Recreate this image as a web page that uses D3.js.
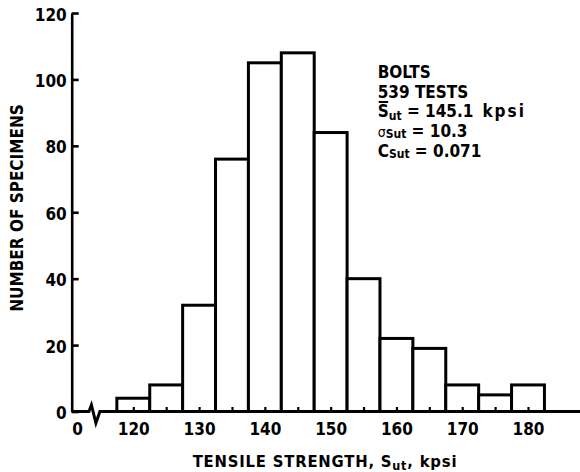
<!DOCTYPE html>
<html>
<head>
<meta charset="utf-8">
<script src="https://cdn.jsdelivr.net/npm/d3@7"></script>
<style>
  body { margin: 0; background: #fff; }
  text { font-family: "DejaVu Sans Condensed", "DejaVu Sans", sans-serif; font-weight: bold; font-stretch: condensed; fill: #000; }
</style>
</head>
<body>
<svg id="chart" width="580" height="472"></svg>
<script>
// histogram bins (lower edge, kpsi) and counts
const binLow = [117.5, 122.5, 127.5, 132.5, 137.5, 142.5, 147.5, 152.5, 157.5, 162.5, 167.5, 172.5, 177.5];
const counts = [4, 8, 32, 76, 105, 108, 84, 40, 22, 19, 8, 5, 8];
const binWidth = 5;

const xTickLabels = [120, 130, 140, 150, 160, 170, 180];
const xMinorTicks = [120, 125, 130, 135, 140, 145, 150, 155, 160, 165, 170, 175, 180];
const yTicks = [0, 20, 40, 60, 80, 100, 120];

const noteLines = ['BOLTS', '539 TESTS'];
const meanValue = '145.1';
const sigmaValue = '10.3';
const covValue = '0.071';

const svg = d3.select('#chart');

//scales
const x = d3.scaleLinear().domain([120, 180]).range([133.3, 528]);
const y = d3.scaleLinear().domain([0, 120]).range([411.5, 13]);
const axisX = 71.7;
const y0 = y(0);

//baseline with the axis break
const bx = x(115);
const breakLine = d3.line();
svg.append('path')
   .attr('d', breakLine([[axisX, y0], [bx - 11.5, y0], [bx - 9, y0 - 6.5], [bx - 4.5, y0 + 11.5], [bx - 0.5, y0], [580, y0]]))
   .attr('fill', 'none')
   .attr('stroke', '#000')
   .attr('stroke-width', 3)
   .attr('stroke-linejoin', 'miter');

//bars
svg.selectAll('rect.bar')
   .data(binLow)
   .enter()
   .append('rect')
   .attr('class', 'bar')
   .attr('x', (d) => x(d))
   .attr('width', (d) => x(d + binWidth) - x(d))
   .attr('y', (d, i) => y(counts[i]))
   .attr('height', (d, i) => y0 - y(counts[i]))
   .attr('fill', '#fff')
   .attr('stroke', '#000')
   .attr('stroke-width', 3);

//minor ticks pointing up
const minorAxis = d3.axisBottom(x).tickValues(xMinorTicks).tickSize(-4.5).tickFormat('');
svg.append('g')
   .attr('transform', 'translate(0,' + y0 + ')')
   .call(minorAxis)
   .call((g) => g.select('.domain').remove())
   .selectAll('line')
   .attr('stroke-width', 2.2);

//x labels
const xAxis = d3.axisBottom(x).tickValues(xTickLabels).tickSize(0).tickPadding(11.5);
svg.append('g')
   .attr('transform', 'translate(0,' + y0 + ')')
   .call(xAxis)
   .call((g) => g.select('.domain').remove())
   .selectAll('text')
   .attr('font-size', 17)
   .attr('font-family', null);

//origin "0"
svg.append('text')
   .attr('x', 77.5)
   .attr('y', 434.5)
   .attr('text-anchor', 'middle')
   .attr('font-size', 17)
   .text('0');

//y axis
const yAxis = d3.axisLeft(y).tickValues(yTicks).tickSizeInner(-7).tickSizeOuter(0).tickPadding(5);
const gy = svg.append('g')
   .attr('transform', 'translate(' + axisX + ',0)')
   .call(yAxis);
gy.select('.domain').attr('stroke-width', 2.6);
gy.selectAll('line').attr('stroke-width', 2.6);
gy.selectAll('text')
  .attr('font-size', 17)
  .attr('font-family', null)
  .attr('dy', '0.42em');

//axis titles
const xTitle = svg.append('text')
   .attr('x', 325)
   .attr('y', 467)
   .attr('text-anchor', 'middle')
   .attr('font-size', 16.5)
   .attr('letter-spacing', 0.8);
xTitle.append('tspan').text('TENSILE STRENGTH, S');
xTitle.append('tspan').attr('font-size', 12.5).attr('dy', 3).text('ut');
xTitle.append('tspan').attr('dy', -3).text(', kpsi');

svg.append('text')
   .attr('transform', 'translate(22.5,208) rotate(-90)')
   .attr('text-anchor', 'middle')
   .attr('font-size', 17)
   .text('NUMBER OF SPECIMENS');

//annotation block
const nx = 377.7;
const noteSize = 17;
noteLines.forEach((t, i) => {
  svg.append('text')
     .attr('x', nx)
     .attr('y', 78 + i * 19.5)
     .attr('font-size', noteSize)
     .text(t);
});

// mean line with overbar on S
const meanText = svg.append('text').attr('x', nx).attr('y', 117).attr('font-size', noteSize);
const sPart = meanText.append('tspan').text('S');
meanText.append('tspan').attr('font-size', 12).attr('dy', 3).text('ut');
meanText.append('tspan').attr('dy', -3).text(' = ' + meanValue);
meanText.append('tspan').attr('dx', 9).attr('letter-spacing', 2).text('kpsi');
const sWidth = sPart.node().getComputedTextLength();
svg.append('line')
   .attr('x1', nx + 1)
   .attr('x2', nx + sWidth - 0.5)
   .attr('y1', 102)
   .attr('y2', 102)
   .attr('stroke', '#000')
   .attr('stroke-width', 2);

const sigmaText = svg.append('text').attr('x', nx).attr('y', 137).attr('font-size', noteSize);
sigmaText.append('tspan').attr('font-size', 14).attr('font-weight', 'normal').text('σ');
sigmaText.append('tspan').attr('font-size', 12).attr('dy', 1).text('Sut');
sigmaText.append('tspan').attr('dy', -1).text(' = ' + sigmaValue);

const covText = svg.append('text').attr('x', nx).attr('y', 157).attr('font-size', noteSize);
covText.append('tspan').text('C');
covText.append('tspan').attr('font-size', 12).attr('dy', 1).text('Sut');
covText.append('tspan').attr('dy', -1).text(' = ' + covValue);
</script>
</body>
</html>
